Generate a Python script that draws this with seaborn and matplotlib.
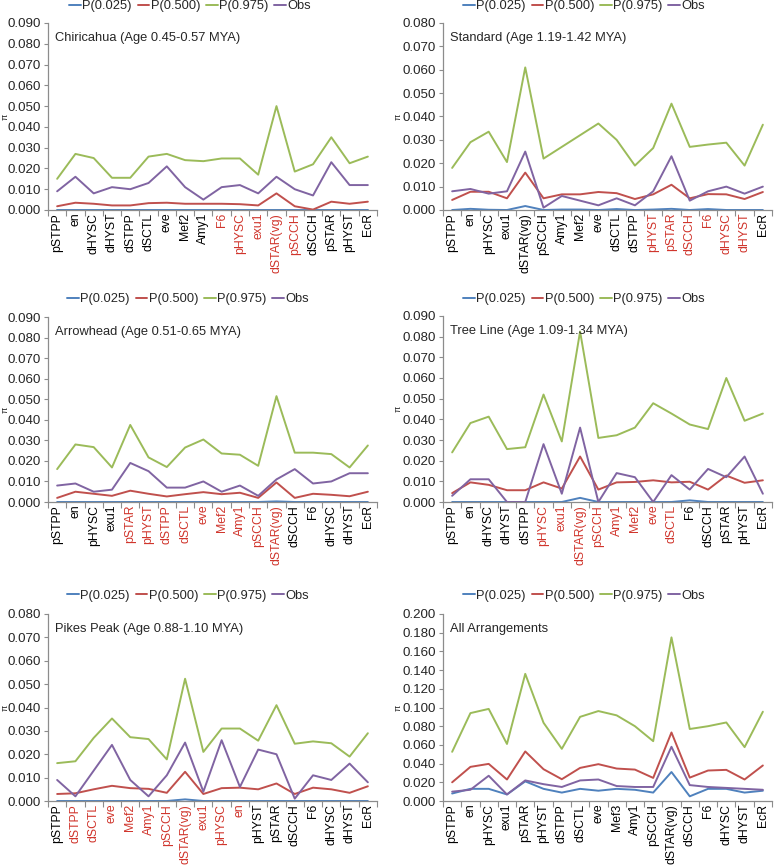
import matplotlib
matplotlib.use("Agg")
import matplotlib.pyplot as plt
from matplotlib.lines import Line2D
from matplotlib.ticker import FormatStrFormatter, FixedLocator
import seaborn as sns
import pandas as pd
import numpy as np

sns.set_theme(style="white")
plt.rcParams['font.family'] = ['Liberation Sans', 'DejaVu Sans']

SERIES = ["P(0.025)", "P(0.500)", "P(0.975)", "Obs"]
COLORS = ["#4F81BD", "#C0504D", "#9BBB59", "#8064A2"]
RED_LABEL = "#D0352C"

# ---------------- data ----------------
chir_title = "Chiricahua (Age 0.45-0.57 MYA)"
chir_cats = ["pSTPP", "en", "dHYSC", "dHYST", "dSTPP", "dSCTL", "eve", "Mef2", "Amy1",
             "F6", "pHYSC", "exu1", "dSTAR(vg)", "pSCCH", "dSCCH", "pSTAR", "pHYST", "EcR"]
chir_red = ["F6", "pHYSC", "exu1", "dSTAR(vg)", "pSCCH"]
chir_p025 = [0.0, 0.0, 0.0, 0.0, 0.0, 0.0, 0.0, 0.0, 0.0, 0.0, 0.0, 0.0, 0.0, 0.0, 0.0, 0.0, 0.0, 0.0]
chir_p500 = [0.0018, 0.0035, 0.003, 0.0022, 0.0022, 0.0033, 0.0035, 0.003, 0.003, 0.003, 0.0028, 0.0022, 0.008, 0.0018, 0.0002, 0.004, 0.003, 0.004]
chir_p975 = [0.015, 0.027, 0.025, 0.0155, 0.0155, 0.0257, 0.027, 0.024, 0.0235, 0.0248, 0.0248, 0.017, 0.050, 0.0185, 0.022, 0.035, 0.0225, 0.0257]
chir_obs = [0.009, 0.016, 0.008, 0.011, 0.010, 0.013, 0.021, 0.011, 0.005, 0.011, 0.012, 0.008, 0.016, 0.010, 0.007, 0.023, 0.012, 0.012]

std_title = "Standard (Age 1.19-1.42 MYA)"
std_cats = ["pSTPP", "en", "pHYSC", "exu1", "dSTAR(vg)", "pSCCH", "Amy1", "Mef2", "eve",
            "dSCTL", "dSTPP", "pHYST", "pSTAR", "dSCCH", "F6", "dHYSC", "dHYST", "EcR"]
std_red = ["pHYST", "pSTAR", "dSCCH", "F6", "dHYSC", "dHYST"]
std_p025 = [0.0, 0.0005, 0.0001, 0.0, 0.0017, 0.0, 0.0002, 0.0002, 0.0, 0.0004, 0.0, 0.0002, 0.0005, 0.0, 0.0004, 0.0, 0.0, 0.0]
std_p500 = [0.0043, 0.0078, 0.0078, 0.005, 0.016, 0.005, 0.0067, 0.0067, 0.0077, 0.0072, 0.0047, 0.0067, 0.0108, 0.005, 0.0068, 0.0067, 0.0047, 0.0077]
std_p975 = [0.018, 0.029, 0.0335, 0.0205, 0.061, 0.022, 0.027, 0.032, 0.037, 0.030, 0.019, 0.0265, 0.0455, 0.027, 0.028, 0.0288, 0.019, 0.0365]
std_obs = [0.008, 0.009, 0.007, 0.008, 0.025, 0.001, 0.006, 0.004, 0.002, 0.005, 0.002, 0.008, 0.023, 0.004, 0.008, 0.010, 0.007, 0.010]

arr_title = "Arrowhead (Age 0.51-0.65 MYA)"
arr_cats = ["pSTPP", "en", "pHYSC", "exu1", "pSTAR", "pHYST", "dSTPP", "dSCTL", "eve",
            "Mef2", "Amy1", "pSCCH", "dSTAR(vg)", "dSCCH", "F6", "dHYSC", "dHYST", "EcR"]
arr_red = ["pSTAR", "pHYST", "dSTPP", "dSCTL", "eve", "Mef2", "Amy1", "pSCCH", "dSTAR(vg)"]
arr_p025 = [0.0, 0.0, 0.0, 0.0, 0.0, 0.0, 0.0, 0.0, 0.0, 0.0, 0.0, 0.0, 0.0003, 0.0, 0.0, 0.0, 0.0, 0.0]
arr_p500 = [0.002, 0.005, 0.004, 0.003, 0.0055, 0.004, 0.0027, 0.0038, 0.0048, 0.0038, 0.0045, 0.002, 0.0095, 0.002, 0.004, 0.0035, 0.0028, 0.005]
arr_p975 = [0.016, 0.028, 0.0267, 0.0168, 0.0375, 0.0217, 0.017, 0.0265, 0.0304, 0.0236, 0.023, 0.0176, 0.0515, 0.024, 0.024, 0.0233, 0.0168, 0.0275]
arr_obs = [0.008, 0.009, 0.005, 0.006, 0.019, 0.015, 0.007, 0.007, 0.010, 0.005, 0.008, 0.003, 0.011, 0.016, 0.009, 0.010, 0.014, 0.014]

tree_title = "Tree Line (Age 1.09-1.34 MYA)"
tree_cats = ["pSTPP", "en", "dHYSC", "dHYST", "dSTPP", "pHYSC", "exu1", "dSTAR(vg)", "pSCCH",
             "Amy1", "Mef2", "eve", "dSCTL", "F6", "dSCCH", "pSTAR", "pHYST", "EcR"]
tree_red = ["pHYSC", "exu1", "dSTAR(vg)", "pSCCH", "Amy1", "Mef2", "eve", "dSCTL"]
tree_p025 = [0.0, 0.0, 0.0, 0.0, 0.0, 0.0, 0.0, 0.002, 0.0, 0.0, 0.0, 0.0, 0.0, 0.0008, 0.0, 0.0, 0.0, 0.0]
tree_p500 = [0.0043, 0.0095, 0.0083, 0.0057, 0.0057, 0.0095, 0.0065, 0.022, 0.006, 0.0095, 0.0097, 0.0105, 0.0095, 0.0098, 0.006, 0.0128, 0.0093, 0.0105]
tree_p975 = [0.024, 0.0382, 0.0413, 0.0256, 0.0265, 0.052, 0.0293, 0.0825, 0.031, 0.0323, 0.036, 0.0478, 0.0428, 0.0375, 0.0353, 0.060, 0.0393, 0.0428]
tree_obs = [0.003, 0.011, 0.011, 0.0, 0.0, 0.028, 0.004, 0.036, 0.0, 0.014, 0.012, 0.0, 0.013, 0.006, 0.016, 0.012, 0.022, 0.004]

pike_title = "Pikes Peak (Age 0.88-1.10 MYA)"
pike_cats = ["pSTPP", "dSTPP", "dSCTL", "eve", "Mef2", "Amy1", "pSCCH", "dSTAR(vg)", "exu1",
             "pHYSC", "en", "pHYST", "pSTAR", "dSCCH", "F6", "dHYSC", "dHYST", "EcR"]
pike_red = ["dSTPP", "dSCTL", "eve", "Mef2", "Amy1", "pSCCH", "dSTAR(vg)", "exu1", "pHYSC", "en"]
pike_p025 = [0.0, 0.0, 0.0, 0.0, 0.0, 0.0, 0.0, 0.0007, 0.0, 0.0, 0.0, 0.0, 0.0, 0.0, 0.0, 0.0, 0.0, 0.0]
pike_p500 = [0.003, 0.0033, 0.005, 0.0065, 0.0055, 0.0052, 0.0035, 0.0125, 0.003, 0.0055, 0.0057, 0.005, 0.0075, 0.003, 0.0057, 0.005, 0.0035, 0.0063]
pike_p975 = [0.0162, 0.017, 0.027, 0.0353, 0.0273, 0.0265, 0.0178, 0.0523, 0.021, 0.031, 0.031, 0.0258, 0.041, 0.0245, 0.0255, 0.0247, 0.019, 0.029]
pike_obs = [0.009, 0.002, 0.013, 0.024, 0.009, 0.002, 0.011, 0.025, 0.004, 0.026, 0.006, 0.022, 0.020, 0.001, 0.011, 0.009, 0.016, 0.008]

all_title = "All Arrangements"
all_cats = ["pSTPP", "en", "pHYSC", "exu1", "pSTAR", "pHYST", "dSTPP", "dSCTL", "eve",
            "Mef3", "Amy1", "pSCCH", "dSTAR(vg)", "dSCCH", "F6", "dHYSC", "dHYST", "EcR"]
all_red = []
all_p025 = [0.008, 0.013, 0.013, 0.007, 0.021, 0.013, 0.009, 0.013, 0.011, 0.013, 0.012, 0.009, 0.031, 0.005, 0.013, 0.013, 0.009, 0.011]
all_p500 = [0.020, 0.0365, 0.0397, 0.023, 0.053, 0.034, 0.0233, 0.0354, 0.0394, 0.0347, 0.0336, 0.0247, 0.0733, 0.025, 0.0326, 0.0333, 0.023, 0.038]
all_p975 = [0.0526, 0.094, 0.0985, 0.061, 0.136, 0.0837, 0.0558, 0.090, 0.0962, 0.0916, 0.080, 0.064, 0.175, 0.077, 0.080, 0.084, 0.0576, 0.0955]
all_obs = [0.010, 0.012, 0.027, 0.007, 0.022, 0.018, 0.015, 0.022, 0.023, 0.016, 0.015, 0.015, 0.058, 0.017, 0.015, 0.014, 0.013, 0.012]

panels = [
    (chir_title, chir_cats, chir_red, [chir_p025, chir_p500, chir_p975, chir_obs], 0.090, 0.010),
    (std_title, std_cats, std_red, [std_p025, std_p500, std_p975, std_obs], 0.080, 0.010),
    (arr_title, arr_cats, arr_red, [arr_p025, arr_p500, arr_p975, arr_obs], 0.090, 0.010),
    (tree_title, tree_cats, tree_red, [tree_p025, tree_p500, tree_p975, tree_obs], 0.090, 0.010),
    (pike_title, pike_cats, pike_red, [pike_p025, pike_p500, pike_p975, pike_obs], 0.080, 0.010),
    (all_title, all_cats, all_red, [all_p025, all_p500, all_p975, all_obs], 0.200, 0.020),
]

# ---------------- layout (pixels) ----------------
W, H = 774, 865
boxes = [  # left, right, top, bottom
    (48, 377, 23, 210),
    (443, 772, 23, 210),
    (48, 377, 317, 502),
    (443, 772, 316, 502),
    (48, 377, 614, 801),
    (443, 772, 614, 801),
]
legend_pos = [(190, 6), (584, 6), (188, 299), (584, 299), (188, 596), (584, 596)]
pi_x = [5, 398, 5, 398, 5, 398]

fig = plt.figure(figsize=(W / 100, H / 100), dpi=100)
fig.patch.set_facecolor("white")
FS = 8.8
AXC = "#8C8C8C"

for (title, cats, red, vals, ymax, step), (l, r, t, b), (lx, ly), px in zip(panels, boxes, legend_pos, pi_x):
    ax = fig.add_axes([l / W, 1 - b / H, (r - l) / W, (b - t) / H])
    n = len(cats)
    rows = []
    for s, v in zip(SERIES, vals):
        for i, (c, y) in enumerate(zip(cats, v)):
            rows.append({"x": i, "pi": y, "series": s})
    df = pd.DataFrame(rows)
    sns.lineplot(data=df, x="x", y="pi", hue="series", hue_order=SERIES,
                 palette=COLORS, linewidth=1.4, ax=ax, legend=False, sort=False)
    ax.set_xlim(-0.5, n - 0.5)
    ax.set_ylim(0, ymax)
    ax.set_yticks(np.arange(0, ymax + step / 2, step))
    ax.yaxis.set_major_formatter(FormatStrFormatter("%.3f"))
    ax.set_xticks(range(n))
    ax.set_xticklabels(cats, rotation=90, fontsize=FS)
    for lab, c in zip(ax.get_xticklabels(), cats):
        lab.set_color(RED_LABEL if c in red else "black")
    ax.xaxis.set_minor_locator(FixedLocator(np.arange(-0.5, n, 1.0)))
    ax.tick_params(axis="x", which="major", length=0, pad=2)
    ax.tick_params(axis="x", which="minor", length=4, width=0.8, color=AXC, direction="out")
    ax.tick_params(axis="y", which="major", length=3, width=0.8, color=AXC, direction="out",
                   labelsize=FS + 0.8, pad=2)
    ax.tick_params(axis="both", bottom=True, left=True, which="both")
    for sp in ["top", "right"]:
        ax.spines[sp].set_visible(False)
    for sp in ["left", "bottom"]:
        ax.spines[sp].set_color(AXC)
        ax.spines[sp].set_linewidth(0.9)
    ax.set_xlabel("")
    ax.set_ylabel("")
    fig.text(px / W, 1 - ((t + b) / 2) / H, "π", rotation=90, ha="center", va="center", fontsize=6.5)
    ax.text(0.02, 0.95, title, transform=ax.transAxes, ha="left", va="top", fontsize=FS + 0.5)
    ax.grid(False)

    handles = [Line2D([], [], color=c, linewidth=1.4) for c in COLORS]
    fig.legend(handles, SERIES, loc="center", bbox_to_anchor=(lx / W, 1 - ly / H),
               ncol=4, frameon=False, fontsize=FS + 0.5, handlelength=0.9,
               handletextpad=0.1, columnspacing=0.45, borderpad=0, borderaxespad=0)

fig.savefig("out.png", dpi=100, facecolor="white")
